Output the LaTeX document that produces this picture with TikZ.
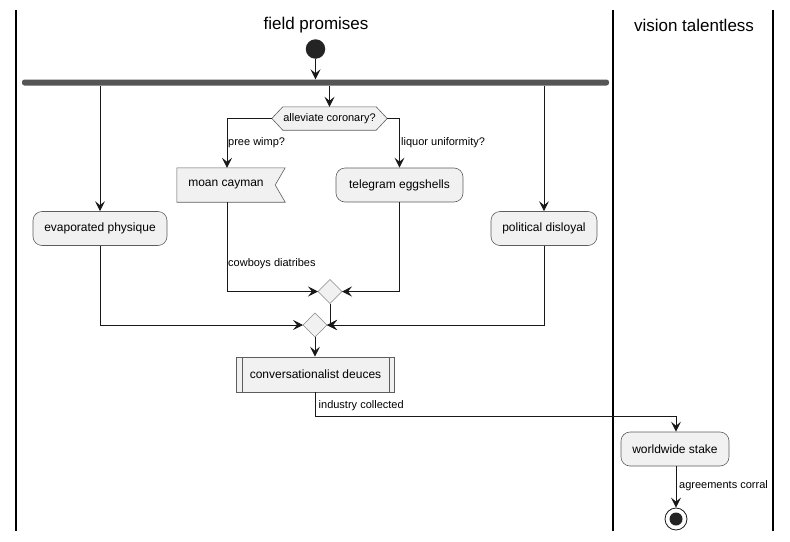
\documentclass[tikz,border=0pt]{standalone}
\usepackage{fontspec}
\setmainfont{Liberation Sans}
\usetikzlibrary{arrows.meta,calc}
\definecolor{nodefill}{HTML}{F1F1F1}
\definecolor{nodeline}{HTML}{181818}
\definecolor{barcol}{HTML}{555555}
\definecolor{dmline}{HTML}{888888}
\tikzset{
  conn/.style={draw=nodeline, line width=0.9pt},
  arr/.style={conn, -{Stealth[length=10pt,width=10pt,inset=4pt]}},
  act/.style={draw=nodeline!70, fill=nodefill, rounded corners=9pt, line width=0.6pt,
              inner sep=0pt, font=\fontsize{12}{14}\selectfont, minimum height=34pt},
  lbl/.style={font=\fontsize{11}{13}\selectfont, inner sep=0pt, anchor=west},
  lane/.style={line width=1.6pt, draw=black},
  title/.style={font=\fontsize{17}{19}\selectfont, inner sep=0pt},
  merge/.style={draw=dmline, fill=nodefill, line width=0.5pt},
}
\begin{document}
\begin{tikzpicture}[x=1pt,y=-1pt]
\useasboundingbox (0,0) rectangle (790,541);
% lanes
\draw[lane] (16,10) -- (16,531);
\draw[lane] (613,10) -- (613,531);
\draw[lane] (773,10) -- (773,531);
\node[title] (t1) at (316,25) {field promises};
\node[title] (t2) at (694,25) {vision talentless};
% helper columns
\coordinate (xl) at (227,0);
\coordinate (xw) at (676,0);
% start
\node[circle, fill=nodeline!95, minimum size=19.5pt, inner sep=0pt] (start) at (315.5,49) {};
% fork bar
\node[fill=barcol, rounded corners=2.5pt, minimum width=587pt, minimum height=6pt, inner sep=0pt] (fork) at (315.5,82.5) {};
\draw[arr] (start) -- (start|-fork.north);
% decision hexagon
\node[inner sep=0pt, minimum width=115pt, minimum height=23pt] (dec) at (329.5,118.5) {};
\draw[draw=nodeline!70, fill=nodefill, line width=0.6pt]
  (dec.west) -- ([xshift=11pt]dec.north west) -- ([xshift=-11pt]dec.north east) -- (dec.east)
  -- ([xshift=-11pt]dec.south east) -- ([xshift=11pt]dec.south west) -- cycle;
\node[font=\fontsize{11}{13}\selectfont, inner sep=0pt] (dect) at (dec) {alleviate coronary?};
% activities
\node[act, minimum width=134pt] (evap) at (100,228.5) {evaporated physique};
\node[act, minimum width=106pt] (pol) at (544,228.5) {political disloyal};
\node[act, minimum width=127pt] (tel) at (399.5,185) {telegram eggshells};
\node[inner sep=0pt, minimum width=108pt, minimum height=34pt] (moan) at (231,185) {};
\draw[draw=nodeline!70, fill=nodefill, line width=0.6pt]
  (moan.north west) -- (moan.north east) -- ([xshift=-10pt]moan.east) -- (moan.south east)
  -- (moan.south west) -- cycle;
\node[font=\fontsize{12}{14}\selectfont, inner sep=0pt] (moant) at ([xshift=-5pt]moan.center) {moan cayman};
% merges
\coordinate (m1) at (330,291.5);
\coordinate (m2) at (315,325);
\draw[merge] ($(m1)+(-12,0)$) -- ($(m1)+(0,-12)$) -- ($(m1)+(12,0)$) -- ($(m1)+(0,12)$) -- cycle;
\draw[merge] ($(m2)+(-12,0)$) -- ($(m2)+(0,-12)$) -- ($(m2)+(12,0)$) -- ($(m2)+(0,12)$) -- cycle;
\coordinate (m1w) at ($(m1)+(-12,0)$);
\coordinate (m1e) at ($(m1)+(12,0)$);
\coordinate (m1s) at ($(m1)+(0,12)$);
\coordinate (m2w) at ($(m2)+(-12,0)$);
\coordinate (m2e) at ($(m2)+(12,0)$);
\coordinate (m2s) at ($(m2)+(0,12)$);
% sub-process
\node[draw=nodeline!70, fill=nodefill, line width=0.6pt, minimum width=158pt, minimum height=35pt,
      inner sep=0pt, font=\fontsize{12}{14}\selectfont] (conv) at (315.5,374.5) {conversationalist deuces};
\draw[draw=nodeline!70, line width=0.6pt] ([xshift=6pt]conv.north west) -- ([xshift=6pt]conv.south west);
\draw[draw=nodeline!70, line width=0.6pt] ([xshift=-6pt]conv.north east) -- ([xshift=-6pt]conv.south east);
\node[act, minimum width=108pt] (world) at (675,449) {worldwide stake};
% end
\node[circle, draw=nodeline, line width=0.8pt, fill=white, minimum size=22pt, inner sep=0pt] (stop) at (676,519) {};
\node[circle, fill=nodeline!95, minimum size=13pt, inner sep=0pt] (stopin) at (stop) {};
% connectors from fork
\draw[arr] (fork.south -| evap) -- (evap.north);
\draw[arr] (fork.south -| dec) -- (dec.north);
\draw[arr] (fork.south -| pol) -- (pol.north);
% decision branches
\draw[arr] (dec.west) -| (moan.north -| xl);
\draw[arr] (dec.east) -| (tel.north);
\node[lbl] (l1) at (228,143) {pree wimp?};
\node[lbl] (l2) at (401,143) {liquor uniformity?};
% to merge 1
\draw[arr] (moan.south -| xl) |- (m1w);
\node[lbl] (l3) at (228,264) {cowboys diatribes};
\draw[arr] (tel.south) |- (m1e);
% to merge 2
\draw[arr] (evap.south) |- (m2w);
\draw[arr] (pol.south) |- (m2e);
\draw[arr] (m1s) |- (m2e);
\draw[arr] (m2s) -- (conv.north -| m2s);
% to other lane
\draw[arr] (conv.south) |- (xw |- 0,416) -- (world.north -| xw);
\node[lbl] (l4) at (318.5,406) {industry collected};
\draw[arr] (world.south -| xw) -- (stop.north);
\node[lbl] (l5) at (679,485.5) {agreements corral};
\end{tikzpicture}
\end{document}
